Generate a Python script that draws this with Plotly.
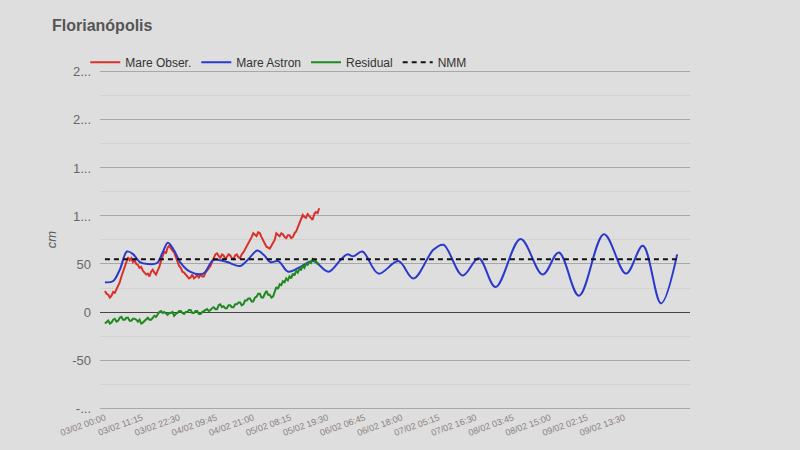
import pandas as pd
import plotly.graph_objects as go

# ---- data (hours from 03/02 00:00, values in cm) ----
astro_hours = [0, 2.4, 4.5, 6.7, 8.6, 10.6, 13, 15.8, 17.5, 19.1, 21, 22.8, 25.8, 29.8, 32.8, 35,
               37.1, 41.0, 43.5, 46.2, 48.3, 50.2, 52.6, 55.6, 59.3, 63.2, 67.8, 71.4, 73.5,
               75.4, 78.1, 83, 89, 93.6, 99.7, 102.7, 108.5, 113.4, 118.5, 126.1, 132.8,
               137.7, 143.8, 151.4, 158.1, 163.2, 168.7, 173.6]
astro_cm = [31, 32, 44, 63, 60, 52, 50, 51, 62, 72, 64, 52, 42, 40, 54, 54,
            52, 48, 55, 64, 59, 52, 53, 42, 47, 53, 42, 54, 60,
            58, 63, 40, 53, 35, 65, 70, 38, 56, 26, 76, 39,
            62, 17, 81, 40, 69, 9, 60]

obs_hours = [h / 2 for h in range(0, 131)]
obs_cm = [22, 19, 18, 15, 17, 21, 20, 24, 28, 31, 37, 42, 48, 53, 57, 54,
          56, 52, 54, 50, 49, 46, 47, 43, 41, 39, 40, 37, 42, 44, 41, 39,
          43, 47, 53, 58, 63, 61, 67, 69, 66, 64, 62, 57, 52, 48, 46, 42,
          41, 39, 38, 35, 36, 39, 35, 37, 38, 36, 39, 37, 37, 41, 43, 46,
          48, 52, 57, 60, 61, 58, 56, 60, 59, 55, 57, 60, 59, 56, 55, 59,
          60, 57, 56, 60, 62, 65, 68, 71, 74, 78, 82, 80, 79, 83, 82, 78,
          75, 71, 68, 67, 66, 69, 72, 75, 82, 80, 79, 82, 81, 78, 77, 80,
          80, 77, 78, 82, 84, 88, 92, 97, 101, 99, 98, 102, 100, 97, 96, 102,
          104, 103, 108]

resid_hours = [h / 2 for h in range(0, 131)]
resid_cm = [-12, -10, -9, -12, -11, -8, -7, -10, -9, -6, -5, -8, -8, -6, -6, -9,
            -9, -7, -7, -8, -10, -8, -12, -11, -9, -7, -6, -8, -8, -6, -4, -5,
            -2, 0, 1, -1, 0, -2, -3, -1, -1, 0, -4, -2, -1, 1, 1, -1, -2, 0,
            0, 2, 2, -1, -1, 1, 1, -2, -2, 0, 1, 2, 3, 1, 2, 4, 5, 3, 3, 7,
            8, 5, 6, 4, 4, 7, 7, 5, 5, 8, 8, 10, 10, 7, 8, 12, 12, 14, 14, 11,
            11, 15, 16, 19, 19, 15, 15, 19, 22, 18, 18, 15, 16, 21, 26, 24, 29, 28,
            32, 31, 35, 33, 37, 35, 40, 38, 43, 41, 45, 44, 48, 46, 50, 49, 52, 51,
            55, 53, 53, 50, 51]

nmm_hours = [0, 173.6]
nmm_cm = [55, 55]

x_tick_hours = [0, 11.25, 22.5, 33.75, 45, 56.25, 67.5, 78.75, 90, 101.25,
                112.5, 123.75, 135, 146.25, 157.5]
x_tick_labels = ["03/02 00:00", "03/02 11:15", "03/02 22:30", "04/02 09:45",
                 "04/02 21:00", "05/02 08:15", "05/02 19:30", "06/02 06:45",
                 "06/02 18:00", "07/02 05:15", "07/02 16:30", "08/02 03:45",
                 "08/02 15:00", "09/02 02:15", "09/02 13:30"]

y_tick_values = [-100, -50, 0, 50, 100, 150, 200, 250]
y_tick_labels = ["-...", "-50", "0", "50", "1...", "1...", "2...", "2..."]

base = pd.Timestamp("2019-02-03 00:00")


def to_time(hours):
    return [base + pd.Timedelta(hours=h) for h in hours]


fig = go.Figure()
fig.add_trace(go.Scatter(x=to_time(obs_hours), y=obs_cm, mode="lines", name="Mare Obser.",
                         line=dict(color="#d9302a", width=2)))
fig.add_trace(go.Scatter(x=to_time(astro_hours), y=astro_cm, mode="lines", name="Mare Astron",
                         line=dict(color="#2b38cc", width=2, shape="spline", smoothing=1.0)))
fig.add_trace(go.Scatter(x=to_time(resid_hours), y=resid_cm, mode="lines", name="Residual",
                         line=dict(color="#1f8a1f", width=2)))
fig.add_trace(go.Scatter(x=to_time(nmm_hours), y=nmm_cm, mode="lines", name="NMM",
                         line=dict(color="#111111", width=2, dash="5px,4px")))

bg = "#dedede"
fig.update_layout(
    width=800, height=450,
    paper_bgcolor=bg, plot_bgcolor=bg,
    margin=dict(l=100, r=110, t=69, b=37),
    title=dict(text="<b>Florianópolis</b>", x=52 / 800, xref="container", xanchor="left",
               y=1 - 25 / 450, yref="container", yanchor="middle",
               font=dict(family="Arial, Liberation Sans, sans-serif", size=16, color="#555555")),
    font=dict(family="Arial, Liberation Sans, sans-serif"),
    showlegend=True,
    legend=dict(orientation="h", x=-0.025, xanchor="left", y=1.02, yanchor="middle",
                font=dict(size=12, color="#333333"), bgcolor="rgba(0,0,0,0)",
                itemwidth=30, traceorder="normal"),
)
fig.update_xaxes(
    range=[base + pd.Timedelta(hours=-1.5), base + pd.Timedelta(hours=177.5)],
    tickmode="array", tickvals=to_time(x_tick_hours), ticktext=x_tick_labels,
    tickangle=-20, tickfont=dict(size=9, color="#8a7f80"),
    showgrid=False, showline=False, zeroline=False, ticks="",
)
fig.update_yaxes(
    range=[-102, 253],
    tickmode="array", tickvals=y_tick_values, ticktext=y_tick_labels,
    tickfont=dict(size=13, color="#666666"),
    showgrid=True, gridcolor="#a8a8a8", gridwidth=1,
    zeroline=True, zerolinecolor="#444444", zerolinewidth=1,
    minor=dict(tickvals=[-75, -25, 25, 75, 125, 175, 225], showgrid=True,
               gridcolor="#d2d2d2", ticks=""),
    title=dict(text="<i>cm</i>", standoff=12, font=dict(size=13, color="#555555")),
    ticks="", ticklabelstandoff=8,
)

fig.write_html("out.html", config={"displayModeBar": False},
               post_script="document.body.style.margin='0';")
